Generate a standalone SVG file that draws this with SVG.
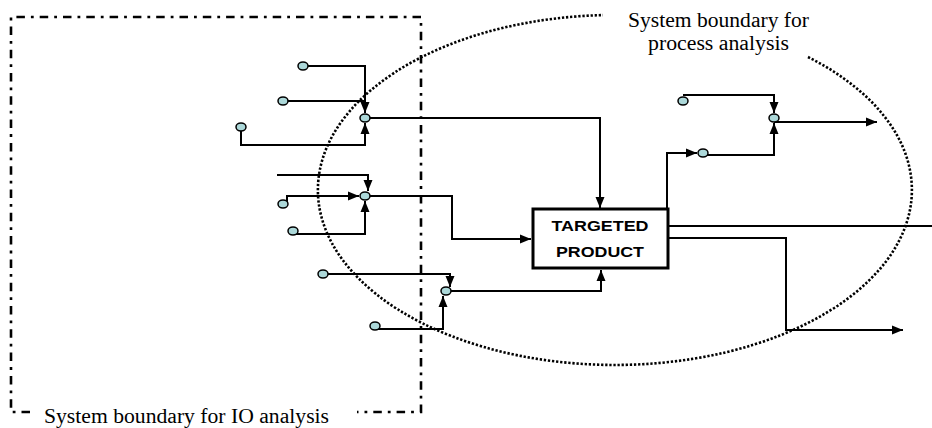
<svg xmlns="http://www.w3.org/2000/svg" width="932" height="428" viewBox="0 0 932 428">
<style>
.wire{fill:none;stroke:#000;stroke-width:2}
.arr{marker-end:url(#ah)}
.pt{fill:#acd8d9;stroke:#000;stroke-width:1.5}
.lbl{font-family:"Liberation Serif","Times New Roman",serif;font-size:20px;fill:#000}
.io{fill:none;stroke:#000;stroke-width:2.6;stroke-dasharray:8.5 6 2.8 6}
.proc{fill:none;stroke:#000;stroke-width:2.6;stroke-dasharray:2.3 1.8}
.box{fill:#fff;stroke:#000;stroke-width:3}
.bt{font-family:"Liberation Sans",Arial,sans-serif;font-weight:bold;font-size:15px;text-anchor:middle;fill:#000}
</style>
<defs>
<marker id="ah" markerUnits="userSpaceOnUse" markerWidth="12" markerHeight="10" refX="11" refY="5" orient="auto">
<path d="M0,0.5 L11,5 L0,9.5 z" fill="#000"/>
</marker>
</defs>
<rect width="932" height="428" fill="#fff"/>

<!-- boundaries -->
<g id="io-boundary">
<path class="io" d="M30,412 H11 V17 H421 V412 H357"/>
<text class="lbl" x="44" y="423" textLength="285" lengthAdjust="spacingAndGlyphs">System boundary for IO analysis</text>
</g>
<g id="process-boundary">
<path class="proc" d="M808,57 A297,175 0 1 1 603,15.1"/>
<text class="lbl" x="628" y="27" textLength="181" lengthAdjust="spacingAndGlyphs">System boundary for</text>
<text class="lbl" x="648" y="50" textLength="141" lengthAdjust="spacingAndGlyphs">process analysis</text>
</g>

<!-- connectors -->
<g id="connectors">
<path class="wire arr" d="M303,66 H365 V113"/>
<path class="wire" d="M283,101 H365"/>
<path class="wire arr" d="M241,127 V145 H365 V123"/>
<path class="wire arr" d="M365,118 H600 V208"/>

<path class="wire arr" d="M277,175 H368 V191"/>
<path class="wire arr" d="M287,204 V196 H359"/>
<path class="wire arr" d="M293,234 H365 V201"/>
<path class="wire arr" d="M365,196 H452 V239 H531"/>

<path class="wire arr" d="M323,274 H450 V287"/>
<path class="wire arr" d="M375,329 H443 V296"/>
<path class="wire arr" d="M446,291 H601 V270"/>

<path class="wire arr" d="M667,209 V153 H697"/>
<path class="wire arr" d="M683,95 H774 V113"/>
<path class="wire arr" d="M703,155 H774 V123"/>
<path class="wire arr" d="M774,122 H877"/>
<path class="wire" d="M668,226 H932"/>
<path class="wire arr" d="M668,238 H786 V330 H903"/>
</g>

<!-- process node -->
<g id="targeted-product">
<rect class="box" x="533" y="209" width="135" height="59"/>
<text class="bt" x="600" y="231" textLength="97" lengthAdjust="spacingAndGlyphs">TARGETED</text>
<text class="bt" x="600" y="257" textLength="88" lengthAdjust="spacingAndGlyphs">PRODUCT</text>
</g>

<!-- flow points -->
<g id="a1"><ellipse class="pt" cx="303" cy="66" rx="5" ry="4"/></g>
<g id="a2"><ellipse class="pt" cx="283" cy="101" rx="5" ry="4"/></g>
<g id="a3"><ellipse class="pt" cx="241" cy="127" rx="5" ry="4"/></g>
<g id="j1"><ellipse class="pt" cx="365" cy="118" rx="5" ry="4"/></g>
<g id="b1"><ellipse class="pt" cx="283" cy="204" rx="5" ry="4"/></g>
<g id="b2"><ellipse class="pt" cx="293" cy="231" rx="5" ry="4"/></g>
<g id="j2"><ellipse class="pt" cx="365" cy="196" rx="5" ry="4"/></g>
<g id="c1"><ellipse class="pt" cx="323" cy="274" rx="5" ry="4"/></g>
<g id="c2"><ellipse class="pt" cx="375" cy="326" rx="5" ry="4"/></g>
<g id="j3"><ellipse class="pt" cx="446" cy="291" rx="5" ry="4"/></g>
<g id="d1"><ellipse class="pt" cx="683" cy="101" rx="5" ry="4"/></g>
<g id="d2"><ellipse class="pt" cx="703" cy="153" rx="5" ry="4"/></g>
<g id="j4"><ellipse class="pt" cx="774" cy="118" rx="5" ry="4"/></g>
</svg>
